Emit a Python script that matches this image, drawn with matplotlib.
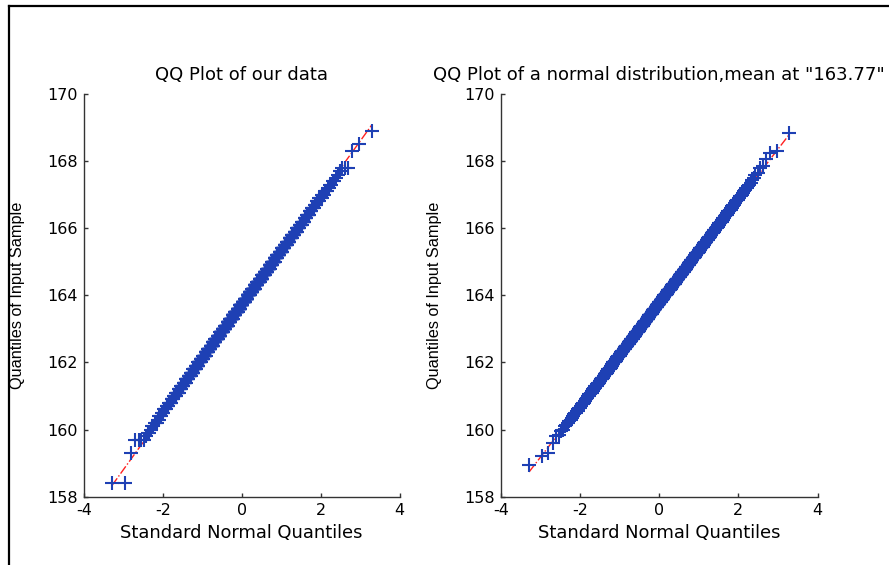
import numpy as np
import matplotlib
matplotlib.use("Agg")
import matplotlib.pyplot as plt
from matplotlib.lines import Line2D
from statistics import NormalDist

# ---- data -------------------------------------------------------------
# Our data: 1000 heights recorded to 0.1, kept as the extreme values plus
# a count for every 0.1 step of the body.
our_low_tail = [158.4, 158.4, 159.3, 159.7, 159.7, 159.7, 159.7]
our_bin_start = 159.8
our_bin_step = 0.1
our_counts = [1, 2, 1, 2, 3, 2, 3, 3, 4, 4, 5, 5,
              6, 7, 7, 8, 8, 10, 10, 12, 12, 13,
              14, 15, 16, 16, 18, 19, 19, 21, 21, 22,
              22, 23, 24, 24, 24, 25, 25, 25, 25, 25,
              24, 24, 24, 24, 22, 23, 21, 21, 19, 19,
              19, 17, 16, 15, 15, 13, 13, 11, 11, 10,
              9, 8, 8, 6, 7, 5, 5, 4, 4, 4,
              3, 3, 2, 2, 2, 1, 1, 1, 3]
our_high_tail = [168.3, 168.5, 168.9]

# Normal sample with mean 163.77: extremes plus counts on a 0.05 grid.
norm_low_tail = [158.95, 159.20, 159.30]
norm_bin_start = 159.55
norm_bin_step = 0.05
norm_counts = [0, 1, 0, 0, 0, 1, 1, 0, 1, 1,
               0, 1, 1, 1, 1, 1, 1, 1, 1, 2,
               2, 1, 2, 2, 2, 2, 2, 2, 2, 3,
               3, 3, 3, 3, 3, 4, 4, 4, 4, 5,
               5, 4, 5, 5, 6, 6, 6, 6, 6, 7,
               7, 7, 7, 8, 8, 8, 8, 9, 9, 10,
               10, 9, 10, 10, 10, 11, 11, 11, 11, 11,
               11, 12, 12, 12, 12, 13, 13, 12, 12, 13,
               13, 12, 13, 13, 13, 13, 13, 12, 13, 13,
               12, 13, 13, 12, 13, 12, 12, 11, 12, 12,
               11, 11, 11, 11, 11, 10, 10, 10, 10, 9,
               9, 9, 9, 8, 8, 8, 8, 7, 7, 7,
               7, 6, 6, 6, 6, 5, 5, 5, 5, 5,
               4, 4, 4, 4, 4, 3, 3, 3, 3, 3,
               3, 2, 2, 2, 2, 2, 2, 2, 2, 1,
               1, 1, 1, 2, 1, 1, 1, 0, 1, 1,
               0, 1, 1, 0, 0, 1, 1, 0]
norm_high_tail = [168.05, 168.25, 168.30, 168.85]

titles = ["QQ Plot of our data",
          'QQ Plot of a normal distribution,mean at "163.77"']
x_label = "Standard Normal Quantiles"
y_label = "Quantiles of Input Sample"
x_ticks = [-4, -2, 0, 2, 4]
y_ticks = [158, 160, 162, 164, 166, 168, 170]


def build_sample(low, start, step, counts, high):
    grid = start + step * np.arange(len(counts))
    return np.concatenate([low, np.repeat(grid, counts), high])


our_sample = build_sample(our_low_tail, our_bin_start, our_bin_step,
                          our_counts, our_high_tail)
norm_sample = build_sample(norm_low_tail, norm_bin_start, norm_bin_step,
                           norm_counts, norm_high_tail)

# ---- drawing ----------------------------------------------------------
W, H = 889, 565
fig = plt.figure(figsize=(W / 100, H / 100), dpi=100, facecolor="white")

MARK = "#1e40b4"
AXC = "#333333"
SANS = "DejaVu Sans"


def qqplot(ax, sample):
    y = np.sort(sample)
    n = len(y)
    nd = NormalDist()
    x = np.array([nd.inv_cdf((i - 0.5) / n) for i in range(1, n + 1)])
    # reference line through the first and third quartiles
    q1x, q3x = nd.inv_cdf(0.25), nd.inv_cdf(0.75)
    q1y, q3y = np.percentile(y, [25, 75])
    slope = (q3y - q1y) / (q3x - q1x)
    icpt = q1y - slope * q1x
    xl = np.array([x[0], x[-1]])
    ax.plot(xl, icpt + slope * xl, linestyle="-.", color="#ff2020",
            lw=1.0, zorder=1)
    ax.plot(x, y, linestyle="none", marker="+", color=MARK,
            ms=10.5, mew=1.5, zorder=2)


axes_px = [(84, 94, 399.5, 496.7), (501, 94, 817.5, 496.7)]
samples = [our_sample, norm_sample]

for (x0, y0, x1, y1), sample, title in zip(axes_px, samples, titles):
    ax = fig.add_axes([x0 / W, 1 - y1 / H, (x1 - x0) / W, (y1 - y0) / H])
    qqplot(ax, sample)
    ax.set_xlim(-4, 4)
    ax.set_ylim(158, 170)
    ax.set_xticks(x_ticks)
    ax.set_yticks(y_ticks)
    ax.set_xticklabels([f"{t:d}" for t in x_ticks])
    for side in ("top", "right"):
        ax.spines[side].set_visible(False)
    for side in ("left", "bottom"):
        ax.spines[side].set_color(AXC)
        ax.spines[side].set_linewidth(1.0)
    ax.tick_params(direction="in", length=3, width=1, color=AXC,
                   labelsize=11.5, pad=4.5, labelcolor="black")
    for lab in ax.get_xticklabels() + ax.get_yticklabels():
        lab.set_family(SANS)
    ax.set_xlabel(x_label, fontsize=12.9, family=SANS, va="center")
    ax.xaxis.set_label_coords(0.5, -36 / (y1 - y0))
    ax.set_ylabel(y_label, fontsize=11.7, family="Liberation Sans",
                  va="center")
    ax.yaxis.set_label_coords(-66 / (x1 - x0), 0.5)
    ax.set_title(title, fontsize=13, family=SANS, va="center",
                 y=1 + 19 / (y1 - y0), pad=0)

# window frame along the top and left edges
fig.add_artist(Line2D([9 / W, 1], [1 - 6 / H, 1 - 6 / H], color="black",
                      lw=1.6, transform=fig.transFigure))
fig.add_artist(Line2D([9 / W, 9 / W], [0, 1 - 6 / H], color="black",
                      lw=1.6, transform=fig.transFigure))

fig.savefig("out.png", dpi=100, facecolor="white")
